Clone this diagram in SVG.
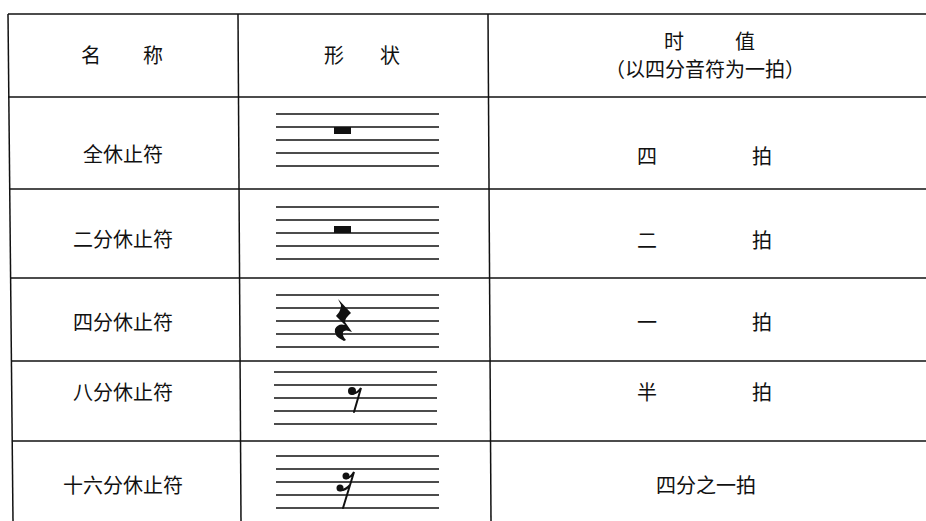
<svg xmlns="http://www.w3.org/2000/svg" width="926" height="521" viewBox="0 0 926 521">
<style>
.grid{stroke:#111;stroke-width:1.5;fill:none}
.staff{stroke:#111;stroke-width:1.4}
.t{font-family:"Noto Sans CJK SC","Noto Sans",sans-serif;font-size:20px;fill:#111;text-anchor:middle}
.ink{fill:#111;stroke:none}
.stem{stroke:#111;stroke-width:2;fill:none;stroke-linecap:round}
</style>
<defs>
<g id="staff">
<line class="staff" x1="0" y1="0" x2="163" y2="0"/>
<line class="staff" x1="0" y1="13" x2="163" y2="13"/>
<line class="staff" x1="0" y1="26" x2="163" y2="26"/>
<line class="staff" x1="0" y1="39" x2="163" y2="39"/>
<line class="staff" x1="0" y1="52" x2="163" y2="52"/>
</g>
</defs>
<rect width="926" height="521" fill="#fff"/>
<g id="grid">
<line class="grid" x1="8" y1="14" x2="926" y2="14"/>
<line class="grid" x1="8" y1="97" x2="926" y2="97"/>
<line class="grid" x1="9" y1="189" x2="926" y2="189"/>
<line class="grid" x1="10" y1="278" x2="926" y2="278"/>
<line class="grid" x1="11" y1="361" x2="926" y2="361"/>
<line class="grid" x1="12" y1="441" x2="926" y2="441"/>
<line class="grid" x1="8" y1="14" x2="13" y2="521"/>
<line class="grid" x1="238" y1="14" x2="241" y2="521"/>
<line class="grid" x1="488" y1="14" x2="491" y2="521"/>
</g>
<g id="header">
<text class="t" x="91" y="63">名</text>
<text class="t" x="153" y="63">称</text>
<text class="t" x="334" y="63">形</text>
<text class="t" x="390" y="63">状</text>
<text class="t" x="674" y="49">时</text>
<text class="t" x="745" y="49">值</text>
<text class="t" x="705" y="77">（以四分音符为一拍）</text>
</g>
<g id="row-whole">
<text class="t" x="123" y="162">全休止符</text>
<use href="#staff" x="276" y="114"/>
<rect class="ink" x="334" y="127" width="17" height="7"/>
<text class="t" x="647" y="164">四</text>
<text class="t" x="762" y="164">拍</text>
</g>
<g id="row-half">
<text class="t" x="123" y="247">二分休止符</text>
<use href="#staff" x="276" y="207"/>
<rect class="ink" x="334" y="226" width="17" height="7"/>
<text class="t" x="647" y="248">二</text>
<text class="t" x="762" y="248">拍</text>
</g>
<g id="row-quarter">
<text class="t" x="123" y="330">四分休止符</text>
<use href="#staff" x="276" y="295"/>
<path class="ink" d="M338,299 L351,313 Q345,318 345,322 L352,332 Q345,329 343,332 Q342,336 346,340 L344,341 Q333,336 335,329 Q338,323 345,325 L336,316 Q341,311 341,305 Z"/>
<text class="t" x="647" y="330">一</text>
<text class="t" x="762" y="330">拍</text>
</g>
<g id="row-eighth">
<text class="t" x="123" y="400">八分休止符</text>
<use href="#staff" x="274" y="372"/>
<circle class="ink" cx="352" cy="391" r="4"/>
<path class="stem" d="M351,393 Q356,395 361,388 L354,412"/>
<text class="t" x="647" y="400">半</text>
<text class="t" x="762" y="400">拍</text>
</g>
<g id="row-sixteenth">
<text class="t" x="123" y="493">十六分休止符</text>
<use href="#staff" x="276" y="456"/>
<circle class="ink" cx="346" cy="476" r="3.5"/>
<circle class="ink" cx="340" cy="488" r="3.5"/>
<path class="stem" d="M345,478 Q350,479 354,472 L343,508 M339,490 Q345,491 350,485"/>
<text class="t" x="706" y="493">四分之一拍</text>
</g>
</svg>
